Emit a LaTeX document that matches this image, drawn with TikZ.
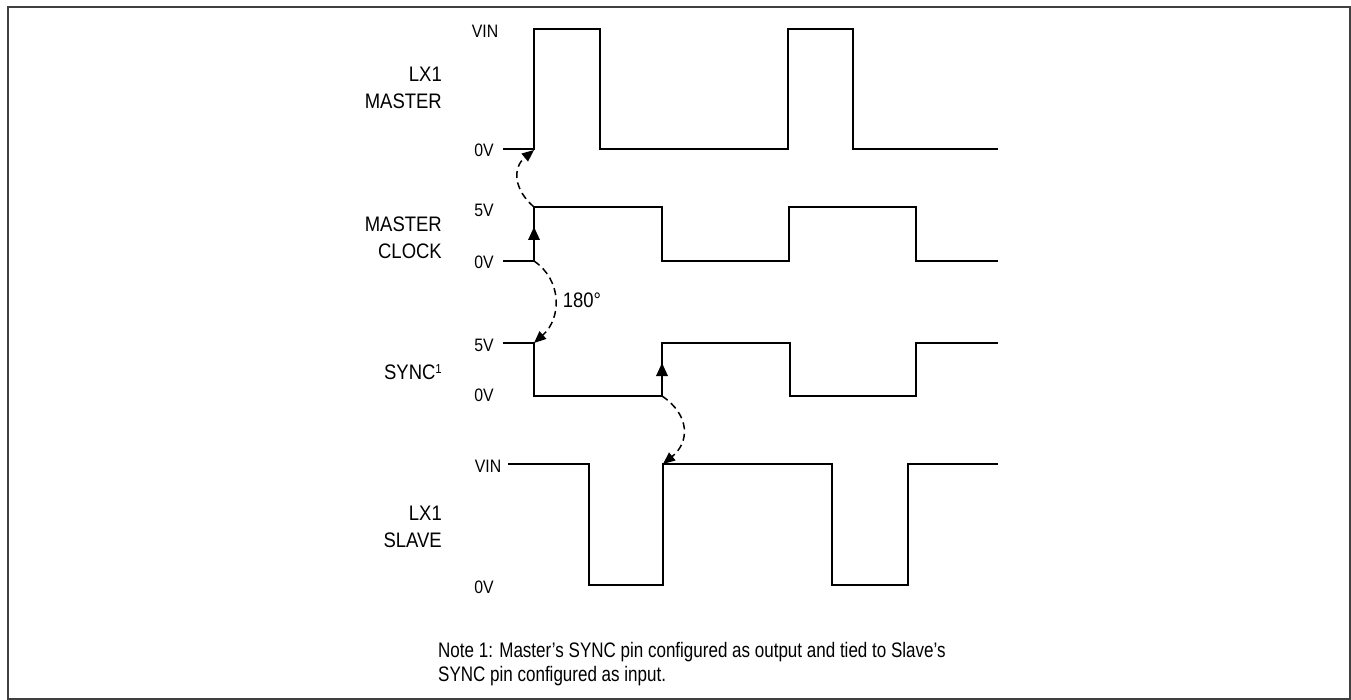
\documentclass[tikz,border=0pt]{standalone}
\usepackage{fontspec}
\setmainfont{Liberation Sans}[FakeStretch=0.88]
\newfontfamily\notefont{Liberation Sans}[FakeStretch=0.81]
\usetikzlibrary{arrows.meta}
\begin{document}
\begin{tikzpicture}[x=1pt,y=-1pt,
  wave/.style={line width=1.7pt, line join=miter},
  lvl/.style={font=\fontsize{18}{20}\selectfont, anchor=center, inner sep=0pt},
  sig/.style={font=\fontsize{21}{27}\selectfont, align=right, anchor=east, inner sep=0pt},
  dep/.style={dash pattern=on 7pt off 4.5pt, line width=1.5pt, -{Triangle[length=12pt,width=10pt]}},
  edgetip/.style={fill=black}
]
\useasboundingbox (0,0) rectangle (1351,700);
\draw[line width=1.5pt, draw=black!75] (8,7) rectangle (1350,699);

% waveforms
\draw[wave] (503,149) -- (534,149) -- (534,29) -- (600,29) -- (600,149) -- (788,149) -- (788,29) -- (853,29) -- (853,149) -- (998,149);
\draw[wave] (503,261) -- (534,261) -- (534,207) -- (662,207) -- (662,261) -- (789,261) -- (789,207) -- (916,207) -- (916,261) -- (998,261);
\draw[wave] (503,343) -- (534,343) -- (534,396) -- (662,396) -- (662,343) -- (790,343) -- (790,396) -- (916,396) -- (916,343) -- (998,343);
\draw[wave] (508,464) -- (589,464) -- (589,585) -- (663,585) -- (663,464) -- (832,464) -- (832,585) -- (908,585) -- (908,464) -- (998,464);

% named points
\coordinate (mclkup) at (534,207);
\coordinate (lxm0) at (534,150);
\coordinate (mclk0) at (534,261);
\coordinate (sync5) at (534,343);
\coordinate (syncup) at (662,396);
\coordinate (slvup) at (663,464);

% edge arrowheads
\fill[edgetip] (534,227) -- (528,240) -- (540,240) -- cycle;
\fill[edgetip] (662,363) -- (656,376) -- (668,376) -- cycle;

% dependency arrows
\draw[dep] (mclkup) .. controls (514,190) and (512,168) .. (lxm0);
\draw[dep] (mclk0) .. controls (562,280) and (562,318) .. (sync5);
\draw[dep] (syncup) .. controls (690,415) and (690,442) .. (slvup);

% level labels
\node[lvl] (l1) at (485,31) {VIN};
\node[lvl] (l2) at (484,150) {0V};
\node[lvl] (l3) at (484,210) {5V};
\node[lvl] (l4) at (484,262) {0V};
\node[lvl] (l5) at (484,345) {5V};
\node[lvl] (l6) at (484,395) {0V};
\node[lvl] (l7) at (488,466) {VIN};
\node[lvl] (l8) at (484,587) {0V};

% signal labels
\node[sig] (s1) at (442,88) {LX1\\MASTER};
\node[sig] (s2) at (442,238) {MASTER\\CLOCK};
\node[sig] (s3) at (442,372) {SYNC\raisebox{0.55ex}{\fontsize{13}{13}\selectfont 1}};
\node[sig] (s4) at (442,527) {LX1\\SLAVE};

\node[font=\fontsize{21}{24}\selectfont, inner sep=0pt] (deg) at (582,300) {180°};

\node[font=\notefont\fontsize{21}{24}\selectfont, align=left, anchor=north west, inner sep=0pt] (note) at (438,642)
  {Note 1: Master’s SYNC pin configured as output and tied to Slave’s\\SYNC pin configured as input.};
\end{tikzpicture}
\end{document}
